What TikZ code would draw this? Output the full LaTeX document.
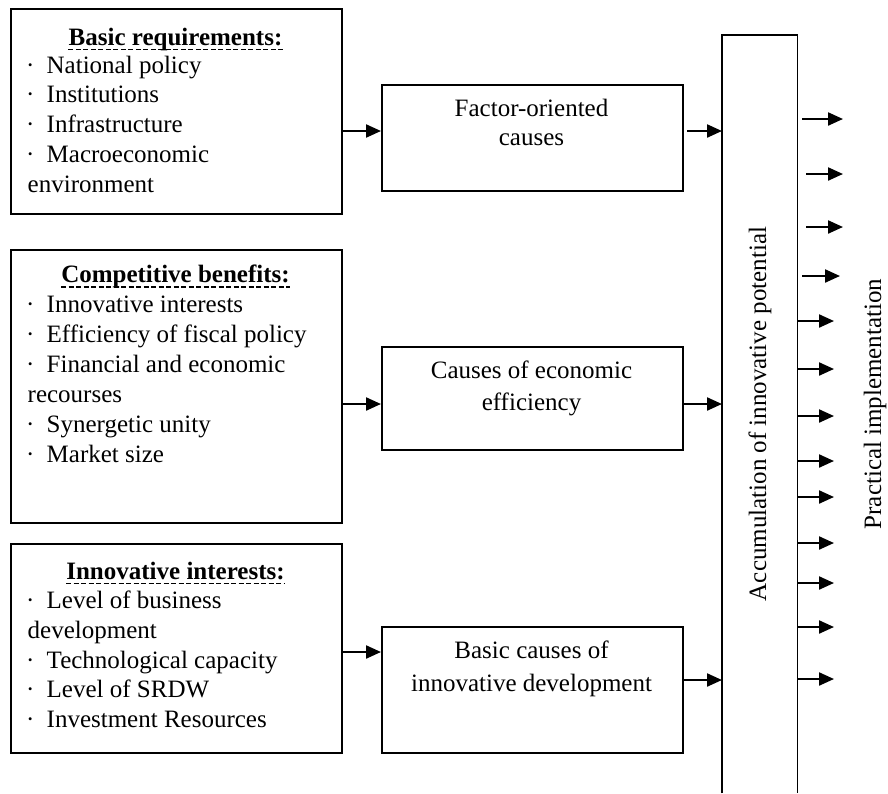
\documentclass[tikz,border=0pt]{standalone}
\usepackage{fontspec}
\setmainfont{Liberation Serif}
\usetikzlibrary{arrows.meta,calc}
\newcommand\bitem{\makebox[20.5pt][l]{·}}
\begin{document}
\begin{tikzpicture}[x=1pt,y=-1pt,
  box/.style={draw,line width=1.5pt,rectangle,inner sep=0pt,anchor=north west},
  arr/.style={line width=2.2pt,-{Triangle[length=15pt,width=13pt]}},
  txt/.style={anchor=base west,inner sep=0pt,font=\fontsize{25}{29.5}\selectfont},
  ctxt/.style={anchor=base,inner sep=0pt,font=\fontsize{25}{29.5}\selectfont},
  head/.style={anchor=base,inner sep=0pt,font=\fontsize{25}{29.5}\selectfont\bfseries},
  uline/.style={line width=1.3pt,dash pattern=on 5pt off 2.5pt}]
\useasboundingbox (0,0) rectangle (888,793);
\fill[white] (0,0) rectangle (888,793);

% left boxes
\node[box,minimum width=331pt,minimum height=205pt] (b1) at (10,8) {};
\node[box,minimum width=331pt,minimum height=273pt] (b2) at (10,249) {};
\node[box,minimum width=331pt,minimum height=209pt] (b3) at (10,543) {};

% box 1 text
\node[head] (h1) at (175.5,45) {Basic requirements:};
\draw[uline] ($(h1.base west)+(0,4.5)$) -- ($(h1.base east)+(0,4.5)$);
\node[txt] (t11) at (26,73.5) {\bitem National policy};
\node[txt] (t12) at (26,102.5) {\bitem Institutions};
\node[txt] (t13) at (26,132) {\bitem Infrastructure};
\node[txt] (t14) at (26,162) {\bitem Macroeconomic};
\node[txt] (t15) at (27.5,192) {environment};

% box 2 text
\node[head] (h2) at (175.5,282.5) {Competitive benefits:};
\draw[uline] ($(h2.base west)+(0,4.5)$) -- ($(h2.base east)+(0,4.5)$);
\node[txt] (t21) at (26,312) {\bitem Innovative interests};
\node[txt] (t22) at (26,342) {\bitem Efficiency of fiscal policy};
\node[txt] (t23) at (26,372) {\bitem Financial and economic};
\node[txt] (t24) at (27.5,402) {recourses};
\node[txt] (t25) at (26,432) {\bitem Synergetic unity};
\node[txt] (t26) at (26,462) {\bitem Market size};

% box 3 text
\node[head] (h3) at (175.5,579) {Innovative interests:};
\draw[uline] ($(h3.base west)+(0,4.5)$) -- ($(h3.base east)+(0,4.5)$);
\node[txt] (t31) at (26,608.5) {\bitem Level of business};
\node[txt] (t32) at (27.5,638) {development};
\node[txt] (t33) at (26,668) {\bitem Technological capacity};
\node[txt] (t34) at (26,697.5) {\bitem Level of SRDW};
\node[txt] (t35) at (26,727.5) {\bitem Investment Resources};

% middle boxes
\node[box,minimum width=301pt,minimum height=106pt] (mA) at (381,84) {};
\node[box,minimum width=301pt,minimum height=103pt] (mB) at (381,346) {};
\node[box,minimum width=301pt,minimum height=126pt] (mC) at (381,626) {};
\node[ctxt] (a1) at (531.5,116) {Factor-oriented};
\node[ctxt] (a2) at (531.5,145) {causes};
\node[ctxt] (bb1) at (531.5,378) {Causes of economic};
\node[ctxt] (bb2) at (531.5,410) {efficiency};
\node[ctxt] (c1) at (531.5,658) {Basic causes of};
\node[ctxt] (c2) at (531.5,691) {innovative development};

% big box (open at the bottom)
\node[inner sep=0pt,minimum width=75pt,minimum height=758pt,anchor=north west] (big) at (722,35) {};
\draw[line width=1.5pt] (big.south west) -- (big.north west) -- (big.north east) -- (big.south east);
\node[anchor=base,inner sep=0pt,rotate=90,font=\fontsize{25}{29.5}\selectfont] (acc) at (766,414) {Accumulation of innovative potential};
\node[anchor=base,inner sep=0pt,rotate=90,font=\fontsize{25}{29.5}\selectfont] (pra) at (881,404) {Practical implementation};

% arrows left -> middle
\draw[arr] (b1.east |- 0,131) -- (mA.west |- 0,131);
\draw[arr] (b2.east |- 0,404) -- (mB.west |- 0,404);
\draw[arr] (b3.east |- 0,652) -- (mC.west |- 0,652);

% arrows middle -> big
\coordinate (sA) at (687,131);
\draw[arr] (sA) -- (big.west |- sA);
\draw[arr] (mB.east |- 0,404) -- (big.west |- 0,404);
\draw[arr] (mC.east |- 0,680) -- (big.west |- 0,680);

% detached output arrows
\coordinate (p1s) at (802,119); \coordinate (p1e) at (843,119);
\coordinate (p2s) at (806,174); \coordinate (p2e) at (843,174);
\coordinate (p3s) at (806,227); \coordinate (p3e) at (843,227);
\coordinate (p4s) at (802,276); \coordinate (p4e) at (840,276);
\draw[arr] (p1s) -- (p1e);
\draw[arr] (p2s) -- (p2e);
\draw[arr] (p3s) -- (p3e);
\draw[arr] (p4s) -- (p4e);

% attached output arrows
\foreach \yy [count=\i] in {321,369,416,461,497,543,583,627,679}{
  \coordinate (q\i) at (834,\yy);
  \draw[arr] (big.east |- q\i) -- (q\i);
}
\end{tikzpicture}
\end{document}
